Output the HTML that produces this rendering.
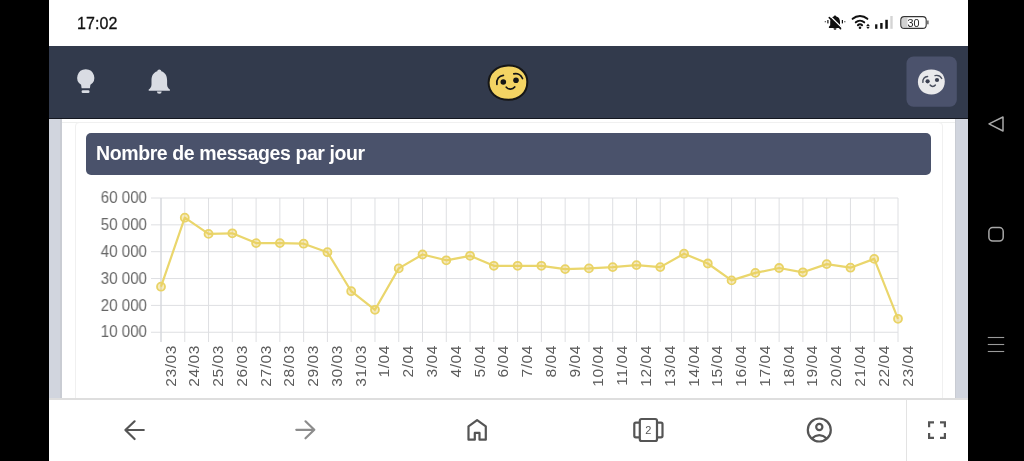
<!DOCTYPE html>
<html><head><meta charset="utf-8">
<style>
*{margin:0;padding:0;box-sizing:border-box}
html,body{width:1024px;height:461px;overflow:hidden;background:#000;font-family:"Liberation Sans",sans-serif}
.xl,.yl,#time,.tt,svg{will-change:transform}
.abs{position:absolute}
#phone{position:absolute;left:49px;top:0;width:919px;height:461px;background:#fff;overflow:hidden}
#time{position:absolute;left:28px;top:15px;font-size:16px;color:#111;letter-spacing:0.1px;-webkit-text-stroke:0.3px #111}
#nav{position:absolute;left:0;top:46px;width:919px;height:73px;background:#323a4c;border-bottom:1px solid #141720}
#sideL{position:absolute;left:0;top:119px;width:13px;height:280px;background:#d1d5de;border-right:2px solid #c9ccd3}
#sideR{position:absolute;left:906px;top:119px;width:13px;height:280px;background:#d1d5de;border-left:1.5px solid #c9ccd3}
#card{position:absolute;left:26px;top:122px;width:868px;height:300px;border:1px solid #f0f0f0;border-radius:4px;background:#fff}
#hr{position:absolute;left:13px;top:122px;width:893px;height:1px;background:#eeefee}
#bottom{position:absolute;left:0;top:398px;width:919px;height:63px;background:#fff;border-top:2px solid #dedede}
#sep{position:absolute;left:856.5px;top:0;width:1px;height:63px;background:#e3e3e3}
.yl{position:absolute;left:0;width:147px;text-align:right;font-size:16px;color:#666;line-height:20px;transform:scaleX(0.945);transform-origin:147px 0}
.xl{position:absolute;top:344.5px;width:60px;height:18px;font-size:15.5px;letter-spacing:0.6px;color:#5c5c5c;line-height:18px;transform-origin:0 0;transform:rotate(-90deg) translate(-60px,-9px);text-align:right}
</style></head><body>
<div id="phone">
 <div id="time">17:02</div>
 <div id="nav"></div>
 <div id="sideL"></div><div id="sideR"></div>
 <div id="hr"></div><div id="card"></div>
 <div id="bottom"><div id="sep"></div></div>
</div>
<div class="abs" style="left:0;top:0;width:1024px;height:461px">
 <div class="abs" style="left:86px;top:133px;width:845px;height:42px;background:#4a526b;border-radius:5px;color:#fff;font-weight:bold;font-size:19.5px;letter-spacing:-0.4px;white-space:nowrap"><span class="abs tt" style="left:9.5px;top:9px">Nombre de messages par jour</span></div>
 <svg class="abs" style="left:0;top:0" width="1024" height="461">
  <g stroke="#dedfe2" stroke-width="1"><line x1="161.00" y1="198.0" x2="161.00" y2="342" /><line x1="184.77" y1="198.0" x2="184.77" y2="342" /><line x1="208.55" y1="198.0" x2="208.55" y2="342" /><line x1="232.32" y1="198.0" x2="232.32" y2="342" /><line x1="256.10" y1="198.0" x2="256.10" y2="342" /><line x1="279.87" y1="198.0" x2="279.87" y2="342" /><line x1="303.65" y1="198.0" x2="303.65" y2="342" /><line x1="327.42" y1="198.0" x2="327.42" y2="342" /><line x1="351.19" y1="198.0" x2="351.19" y2="342" /><line x1="374.97" y1="198.0" x2="374.97" y2="342" /><line x1="398.74" y1="198.0" x2="398.74" y2="342" /><line x1="422.52" y1="198.0" x2="422.52" y2="342" /><line x1="446.29" y1="198.0" x2="446.29" y2="342" /><line x1="470.06" y1="198.0" x2="470.06" y2="342" /><line x1="493.84" y1="198.0" x2="493.84" y2="342" /><line x1="517.61" y1="198.0" x2="517.61" y2="342" /><line x1="541.39" y1="198.0" x2="541.39" y2="342" /><line x1="565.16" y1="198.0" x2="565.16" y2="342" /><line x1="588.94" y1="198.0" x2="588.94" y2="342" /><line x1="612.71" y1="198.0" x2="612.71" y2="342" /><line x1="636.48" y1="198.0" x2="636.48" y2="342" /><line x1="660.26" y1="198.0" x2="660.26" y2="342" /><line x1="684.03" y1="198.0" x2="684.03" y2="342" /><line x1="707.81" y1="198.0" x2="707.81" y2="342" /><line x1="731.58" y1="198.0" x2="731.58" y2="342" /><line x1="755.35" y1="198.0" x2="755.35" y2="342" /><line x1="779.13" y1="198.0" x2="779.13" y2="342" /><line x1="802.90" y1="198.0" x2="802.90" y2="342" /><line x1="826.68" y1="198.0" x2="826.68" y2="342" /><line x1="850.45" y1="198.0" x2="850.45" y2="342" /><line x1="874.23" y1="198.0" x2="874.23" y2="342" /><line x1="898.00" y1="198.0" x2="898.00" y2="342" /><line x1="151" y1="198.00" x2="898.0" y2="198.00" /><line x1="151" y1="224.85" x2="898.0" y2="224.85" /><line x1="151" y1="251.70" x2="898.0" y2="251.70" /><line x1="151" y1="278.55" x2="898.0" y2="278.55" /><line x1="151" y1="305.40" x2="898.0" y2="305.40" /><line x1="151" y1="332.25" x2="898.0" y2="332.25" /></g>
  <line x1="161" y1="198" x2="161" y2="342" stroke="#d3d5db" stroke-width="1"/>
  <polyline points="161.00,286.70 184.77,217.70 208.55,233.90 232.32,233.30 256.10,243.10 279.87,243.10 303.65,243.70 327.42,252.20 351.19,291.20 374.97,309.80 398.74,268.40 422.52,254.50 446.29,260.30 470.06,255.80 493.84,265.80 517.61,265.80 541.39,265.80 565.16,269.10 588.94,268.40 612.71,267.10 636.48,265.10 660.26,267.10 684.03,253.70 707.81,263.50 731.58,280.40 755.35,272.90 779.13,268.00 802.90,272.30 826.68,264.10 850.45,267.70 874.23,258.90 898.00,318.80" fill="none" stroke="#ead66c" stroke-width="2.2" stroke-linejoin="round"/>
  <g fill="rgba(236,205,90,0.4)" stroke="#e9d366" stroke-width="1.8"><circle cx="161.00" cy="286.70" r="4" /><circle cx="184.77" cy="217.70" r="4" /><circle cx="208.55" cy="233.90" r="4" /><circle cx="232.32" cy="233.30" r="4" /><circle cx="256.10" cy="243.10" r="4" /><circle cx="279.87" cy="243.10" r="4" /><circle cx="303.65" cy="243.70" r="4" /><circle cx="327.42" cy="252.20" r="4" /><circle cx="351.19" cy="291.20" r="4" /><circle cx="374.97" cy="309.80" r="4" /><circle cx="398.74" cy="268.40" r="4" /><circle cx="422.52" cy="254.50" r="4" /><circle cx="446.29" cy="260.30" r="4" /><circle cx="470.06" cy="255.80" r="4" /><circle cx="493.84" cy="265.80" r="4" /><circle cx="517.61" cy="265.80" r="4" /><circle cx="541.39" cy="265.80" r="4" /><circle cx="565.16" cy="269.10" r="4" /><circle cx="588.94" cy="268.40" r="4" /><circle cx="612.71" cy="267.10" r="4" /><circle cx="636.48" cy="265.10" r="4" /><circle cx="660.26" cy="267.10" r="4" /><circle cx="684.03" cy="253.70" r="4" /><circle cx="707.81" cy="263.50" r="4" /><circle cx="731.58" cy="280.40" r="4" /><circle cx="755.35" cy="272.90" r="4" /><circle cx="779.13" cy="268.00" r="4" /><circle cx="802.90" cy="272.30" r="4" /><circle cx="826.68" cy="264.10" r="4" /><circle cx="850.45" cy="267.70" r="4" /><circle cx="874.23" cy="258.90" r="4" /><circle cx="898.00" cy="318.80" r="4" /></g>

  <!-- status bar icons -->
  <g fill="#111">
   <path d="M835,15.4 c-0.8,0 -1.3,0.6 -1.3,1.2 C831,17.5 830.2,19.5 830.2,22 L830.2,25.2 L828.9,26.8 L828.9,27.9 L841.4,27.9 L841.4,26.8 L840,25.2 L840,22 C840,19.5 839.2,17.5 836.3,16.6 c0,-0.6 -0.5,-1.2 -1.3,-1.2 Z"/>
   <path d="M833.5,28.3 a1.5,1.5 0 0 0 3,0 Z"/>
   <rect x="827.3" y="20" width="1.2" height="3.4"/>
   <rect x="824.8" y="21.1" width="0.9" height="1.2"/>
   <rect x="841.8" y="20" width="1.2" height="3.4"/>
   <rect x="844.4" y="21.1" width="0.9" height="1.2"/>
  </g>
  <line x1="830.3" y1="16.3" x2="842" y2="27.8" stroke="#fff" stroke-width="1.3"/>
  <line x1="829.3" y1="17.6" x2="840.6" y2="28.7" stroke="#111" stroke-width="1.6" stroke-linecap="round"/>
  <g fill="none" stroke="#111" stroke-width="2" stroke-linecap="round">
   <path d="M852.64,18.83 A11,11 0 0 1 867.36,18.83"/>
   <path d="M855.78,22.32 A6.3,6.3 0 0 1 864.22,22.32"/>
   <path d="M857.93,25.26 A2.7,2.7 0 0 1 862.07,25.26"/>
  </g>
  <circle cx="860" cy="27.8" r="1.3" fill="#111"/>
  <path d="M866.2,26 L868,23.7 L869.8,26 Z M866.2,26.7 L869.8,26.7 L868,29 Z" fill="#111"/>
  <g fill="#111">
   <rect x="875.1" y="24.3" width="2.3" height="4.5"/>
   <rect x="880.2" y="23" width="2.4" height="5.8"/>
   <rect x="885.3" y="19.8" width="2.5" height="9"/>
  </g>
  <rect x="890.3" y="16" width="2.4" height="12.8" fill="#d4d4d4"/>
  <rect x="901.5" y="17.7" width="6" height="9.6" fill="#d2d2d2"/>
  <rect x="900.8" y="16.6" width="25.4" height="11.8" rx="3.5" fill="none" stroke="#333" stroke-width="1.1"/>
  <text x="913.6" y="26.5" font-size="10.8" fill="#222" text-anchor="middle" font-family="Liberation Sans">30</text>
  <rect x="926.8" y="20.5" width="1.9" height="3.8" fill="#777"/>

  <!-- header icons -->
  <g fill="#d9dce3">
   <path d="M85.7,69.2 a8.45,8.45 0 0 0 -4.6,15.55 L81.6,88.2 L89.9,88.2 L90.4,84.75 A8.45,8.45 0 0 0 85.7,69.2 Z"/>
   <rect x="81.6" y="90.3" width="7.9" height="2.7" rx="1.2"/>
   <path d="M159.3,69.5 c-1.1,0 -1.9,0.8 -2,1.8 C153,72.6 151.5,76.3 151.5,80.5 L151.5,84.5 C151.5,87 150.2,88.6 148.7,89.6 L148.7,90.8 L169.9,90.8 L169.9,89.6 C168.4,88.6 167.1,87 167.1,84.5 L167.1,80.5 C167.1,76.3 165.6,72.6 161.3,71.3 c-0.1,-1 -0.9,-1.8 -2,-1.8 Z"/>
   <path d="M156.9,91.4 a2.4,2.4 0 0 0 4.8,0 Z"/>
  </g>
  <!-- logo -->
  <path d="M508,65.6 C519,65.2 527.2,72 527.3,81.8 C527.4,92.5 519.5,99.8 508.5,99.8 C496.5,99.8 488.6,92.5 488.6,82.8 C488.6,72.5 497,66 508,65.6 Z" fill="#f4d463" stroke="#161616" stroke-width="2"/>
  <circle cx="503.3" cy="82" r="2.8" fill="#161616"/>
  <circle cx="516" cy="80.3" r="2.8" fill="#161616"/>
  <g fill="none" stroke="#161616" stroke-width="1.7" stroke-linecap="round">
   <path d="M496.9,84.4 C496.2,79.2 499,75.8 503.4,75.4"/>
   <path d="M513.8,73.9 C517.6,72.9 521,75 522.5,78.5"/>
   <path d="M506.3,87.2 C508.4,89.8 512.6,89.8 514.7,87"/>
  </g>
  <!-- avatar -->
  <rect x="906.5" y="56.5" width="50.3" height="50.3" rx="7" fill="#4b526c"/>
  <path d="M931,69.6 C939.5,69.4 944.8,74.5 944.8,81.5 C944.8,89 939.2,94.5 931.5,94.5 C923.5,94.5 917.9,89 917.9,82 C917.9,74.7 923,69.8 931,69.6 Z" fill="#e9e9eb"/>
  <circle cx="927.6" cy="81.3" r="2.1" fill="#3a3f50"/>
  <circle cx="937" cy="80" r="2.1" fill="#3a3f50"/>
  <g fill="none" stroke="#4a4f5e" stroke-width="1.4" stroke-linecap="round">
   <path d="M922.9,82.4 C922.5,78.8 924.5,76.8 927.6,76.5"/>
   <path d="M935,75.6 C938,75 940.6,76.4 941.7,78.5"/>
   <path d="M930.1,85 C931.5,86.9 934,86.9 935.4,85"/>
  </g>

  <!-- bottom nav -->
  <g fill="none" stroke="#555" stroke-width="2.2" stroke-linecap="round" stroke-linejoin="round">
   <path d="M143.8,430 L125.4,430 M134.6,421.3 L125.4,430 L134.6,439"/>
  </g>
  <g fill="none" stroke="#8c8c8c" stroke-width="2.2" stroke-linecap="round" stroke-linejoin="round">
   <path d="M296.3,429.8 L314.3,429.8 M305.5,421.3 L314.3,429.8 L305.5,438.3"/>
  </g>
  <g fill="none" stroke="#555" stroke-width="2.2" stroke-linejoin="round">
   <path d="M468.5,439.7 L468.5,426.3 L477.1,420.2 L485.8,426.3 L485.8,439.7 L479.5,439.7 L479.5,432.9 L474.8,432.9 L474.8,439.7 Z"/>
   <rect x="639.8" y="419" width="17.2" height="22" rx="1.8"/>
   <path d="M639.8,422.6 L635.8,422.6 Q634.3,422.6 634.3,424.1 L634.3,435.8 Q634.3,437.3 635.8,437.3 L639.8,437.3"/>
   <path d="M657,422.6 L661,422.6 Q662.5,422.6 662.5,424.1 L662.5,435.8 Q662.5,437.3 661,437.3 L657,437.3"/>
   <circle cx="819.3" cy="430" r="11.5"/>
   <circle cx="819.3" cy="427" r="3.1"/>
   <path d="M811.6,438.6 Q819.3,431.8 827,438.6"/>
  </g>
  <text x="648.4" y="434.2" font-size="11" fill="#555" text-anchor="middle" font-family="Liberation Sans">2</text>
  <g fill="none" stroke="#555" stroke-width="2.2" stroke-linecap="butt">
   <path d="M929.1,427.3 V422.3 H934 M940,422.3 H944.9 V427.3 M944.9,432.9 V437.9 H940 M934,437.9 H929.1 V432.9"/>
  </g>
  <!-- android nav -->
  <g fill="none" stroke="#a8a8a8" stroke-width="1.5" stroke-linejoin="round">
   <path d="M989,123.9 L1003,117 L1003,131 Z"/>
   <rect x="988.9" y="227.6" width="14.3" height="13.5" rx="3.8"/>
  </g>
  <g stroke="#9a9a9a" stroke-width="1.1">
   <line x1="987.8" y1="337.5" x2="1004.2" y2="337.5"/>
   <line x1="987.8" y1="344.5" x2="1004.2" y2="344.5"/>
   <line x1="987.8" y1="351.5" x2="1004.2" y2="351.5"/>
  </g>
 </svg>
 <div class="yl" style="top:188.10px">60 000</div><div class="yl" style="top:214.95px">50 000</div><div class="yl" style="top:241.80px">40 000</div><div class="yl" style="top:268.65px">30 000</div><div class="yl" style="top:295.50px">20 000</div><div class="yl" style="top:322.35px">10 000</div>
 <div class="xl" style="left:170.50px">23/03</div><div class="xl" style="left:194.27px">24/03</div><div class="xl" style="left:218.05px">25/03</div><div class="xl" style="left:241.82px">26/03</div><div class="xl" style="left:265.60px">27/03</div><div class="xl" style="left:289.37px">28/03</div><div class="xl" style="left:313.15px">29/03</div><div class="xl" style="left:336.92px">30/03</div><div class="xl" style="left:360.69px">31/03</div><div class="xl" style="left:384.47px">1/04</div><div class="xl" style="left:408.24px">2/04</div><div class="xl" style="left:432.02px">3/04</div><div class="xl" style="left:455.79px">4/04</div><div class="xl" style="left:479.56px">5/04</div><div class="xl" style="left:503.34px">6/04</div><div class="xl" style="left:527.11px">7/04</div><div class="xl" style="left:550.89px">8/04</div><div class="xl" style="left:574.66px">9/04</div><div class="xl" style="left:598.44px">10/04</div><div class="xl" style="left:622.21px">11/04</div><div class="xl" style="left:645.98px">12/04</div><div class="xl" style="left:669.76px">13/04</div><div class="xl" style="left:693.53px">14/04</div><div class="xl" style="left:717.31px">15/04</div><div class="xl" style="left:741.08px">16/04</div><div class="xl" style="left:764.85px">17/04</div><div class="xl" style="left:788.63px">18/04</div><div class="xl" style="left:812.40px">19/04</div><div class="xl" style="left:836.18px">20/04</div><div class="xl" style="left:859.95px">21/04</div><div class="xl" style="left:883.73px">22/04</div><div class="xl" style="left:907.50px">23/04</div>
</div>
</body></html>
